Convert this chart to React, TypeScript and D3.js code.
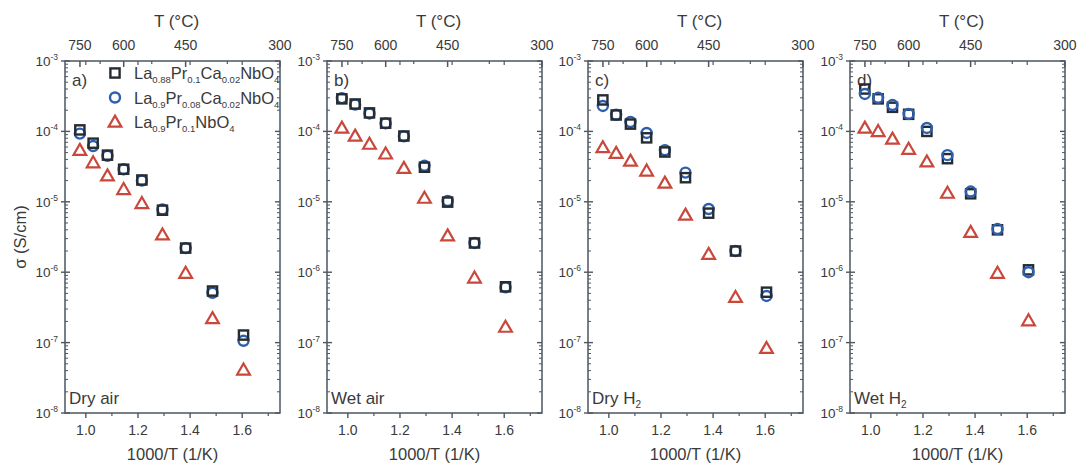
import React from 'react';
import * as d3 from 'd3';

// 1000/T (1/K) for 750..350 °C
const invT = [0.977, 1.028, 1.083, 1.145, 1.215, 1.294, 1.383, 1.486, 1.605];

// conductivity (S/cm)
const dryAirCa = [1.05e-4, 6.8e-5, 4.6e-5, 2.9e-5, 2.04e-5, 7.6e-6, 2.2e-6, 5.4e-7, 1.28e-7];
const dryAirPrCa = [9.3e-5, 6.2e-5, 4.5e-5, 2.9e-5, 2.0e-5, 7.8e-6, 2.2e-6, 5.1e-7, 1.06e-7];
const dryAirPr = [5.4e-5, 3.6e-5, 2.35e-5, 1.5e-5, 9.5e-6, 3.4e-6, 9.7e-7, 2.2e-7, 4.1e-8];

const wetAirCa = [2.9e-4, 2.45e-4, 1.83e-4, 1.31e-4, 8.6e-5, 3.1e-5, 9.9e-6, 2.6e-6, 6.2e-7];
const wetAirPrCa = [2.97e-4, 2.4e-4, 1.8e-4, 1.3e-4, 8.5e-5, 3.25e-5, 1.03e-5, 2.6e-6, 6.1e-7];
const wetAirPr = [1.12e-4, 8.6e-5, 6.6e-5, 4.8e-5, 3.0e-5, 1.13e-5, 3.3e-6, 8.3e-7, 1.66e-7];

const dryH2Ca = [2.8e-4, 1.71e-4, 1.27e-4, 8.1e-5, 5.1e-5, 2.2e-5, 6.9e-6, 2.0e-6, 5.2e-7];
const dryH2PrCa = [2.3e-4, 1.72e-4, 1.36e-4, 9.5e-5, 5.4e-5, 2.6e-5, 7.9e-6, 2.0e-6, 4.6e-7];
const dryH2Pr = [5.9e-5, 4.9e-5, 3.8e-5, 2.75e-5, 1.85e-5, 6.5e-6, 1.8e-6, 4.4e-7, 8.3e-8];

const wetH2Ca = [4.0e-4, 2.9e-4, 2.2e-4, 1.75e-4, 1.0e-4, 4.1e-5, 1.3e-5, 4.0e-6, 1.08e-6];
const wetH2PrCa = [3.4e-4, 3.0e-4, 2.37e-4, 1.77e-4, 1.12e-4, 4.6e-5, 1.4e-5, 4.1e-6, 1.0e-6];
const wetH2Pr = [1.12e-4, 1.0e-4, 7.8e-5, 5.6e-5, 3.7e-5, 1.33e-5, 3.7e-6, 9.7e-7, 2.05e-7];

const bottomTicks = [1.0, 1.2, 1.4, 1.6];
const bottomMinor = [1.1, 1.3, 1.5, 1.7];
const topTicks = [750, 600, 450, 300];
const topMinor = [675, 525, 375];
const yExponents = [-3, -4, -5, -6, -7, -8];

const panels = [
  { tag: 'a)', cond: ['Dry air', ''], sq: dryAirCa, ci: dryAirPrCa, tr: dryAirPr, circleTop: false },
  { tag: 'b)', cond: ['Wet air', ''], sq: wetAirCa, ci: wetAirPrCa, tr: wetAirPr, circleTop: false },
  { tag: 'c)', cond: ['Dry H', '2'], sq: dryH2Ca, ci: dryH2PrCa, tr: dryH2Pr, circleTop: false },
  { tag: 'd)', cond: ['Wet H', '2'], sq: wetH2Ca, ci: wetH2PrCa, tr: wetH2Pr, circleTop: true },
];

const legend = [
  { shape: 'sq', parts: [['La', '0.88'], ['Pr', '0.1'], ['Ca', '0.02'], ['NbO', '4']] },
  { shape: 'ci', parts: [['La', '0.9'], ['Pr', '0.08'], ['Ca', '0.02'], ['NbO', '4']] },
  { shape: 'tr', parts: [['La', '0.9'], ['Pr', '0.1'], ['NbO', '4']] },
];

const colors = { sq: '#262c33', ci: '#2d5fae', tr: '#c9473b' };
const axisColor = '#4e5660';
const textColor = '#3a3a3a';
const font = 'Liberation Sans, Arial, sans-serif';

const W = 1077, H = 466;
const panelW = 215, top = 61, bottom = 413;
const lefts = [65, 327, 588, 850];

const y = d3.scaleLog().domain([1e-8, 1e-3]).range([bottom, top]);

function Marker({ shape, cx, cy }: { shape: string; cx: number; cy: number }) {
  const c = colors[shape as keyof typeof colors];
  if (shape === 'sq') return <rect x={cx - 4.6} y={cy - 4.6} width={9.2} height={9.2} fill="none" stroke={c} strokeWidth={2.4} />;
  if (shape === 'ci') return <circle cx={cx} cy={cy} r={5} fill="none" stroke={c} strokeWidth={2.4} />;
  const s = d3.symbol(d3.symbolTriangle, 70)();
  return <path d={s || ''} transform={`translate(${cx},${cy + 1})`} fill="none" stroke={c} strokeWidth={2.2} strokeLinejoin="miter" />;
}

function Panel({ p, left, i }: { p: any; left: number; i: number }) {
  const x = d3.scaleLinear().domain([0.92, 1.745]).range([left, left + panelW]);
  const xT = (t: number) => x(1000 / (t + 273.15));
  const minorY: number[] = [];
  yExponents.slice(0, -1).forEach((e) => {
    for (let k = 2; k <= 9; k++) minorY.push(k * Math.pow(10, e - 1));
  });
  const order = p.circleTop ? ['sq', 'ci', 'tr'] : ['ci', 'sq', 'tr'];
  const cx = (left + left + panelW) / 2;
  return (
    <g>
      {/* frame */}
      <rect x={left} y={top} width={panelW} height={bottom - top} fill="none" stroke={axisColor} strokeWidth={1.5} />
      {/* bottom axis */}
      {bottomTicks.map((t) => (
        <g key={'b' + t}>
          <line x1={x(t)} x2={x(t)} y1={bottom} y2={bottom + 5} stroke={axisColor} strokeWidth={1.4} />
          <line x1={x(t)} x2={x(t)} y1={top} y2={top + 4} stroke={axisColor} strokeWidth={1.2} />
          <text x={x(t)} y={bottom + 22} textAnchor="middle" fontSize={14} fill={textColor}>{t.toFixed(1)}</text>
        </g>
      ))}
      {bottomMinor.map((t) => (
        <line key={'bm' + t} x1={x(t)} x2={x(t)} y1={bottom} y2={bottom + 3} stroke={axisColor} strokeWidth={1.2} />
      ))}
      <text x={cx} y={bottom + 47} textAnchor="middle" fontSize={16.5} fill={textColor}>1000/T (1/K)</text>
      {/* top axis (°C) */}
      {topTicks.map((t) => (
        <g key={'t' + t}>
          <line x1={xT(t)} x2={xT(t)} y1={top} y2={top + 6} stroke={axisColor} strokeWidth={1.5} />
          <text x={xT(t)} y={top - 11} textAnchor="middle" fontSize={14} fill={textColor}>{t}</text>
        </g>
      ))}
      {topMinor.map((t) => (
        <line key={'tm' + t} x1={xT(t)} x2={xT(t)} y1={top} y2={top + 3} stroke={axisColor} strokeWidth={1.2} />
      ))}
      <text x={cx + 4} y={top - 34} textAnchor="middle" fontSize={17} fill={textColor}>T (°C)</text>
      {/* left / right axes */}
      {yExponents.map((e) => (
        <g key={'y' + e}>
          <line x1={left - 4} x2={left + 5} y1={y(Math.pow(10, e))} y2={y(Math.pow(10, e))} stroke={axisColor} strokeWidth={1.4} />
          <line x1={left + panelW - 5} x2={left + panelW} y1={y(Math.pow(10, e))} y2={y(Math.pow(10, e))} stroke={axisColor} strokeWidth={1.4} />
          <text x={left - 7} y={y(Math.pow(10, e)) + 5} textAnchor="end" fontSize={13.5} fill={textColor}>
            10<tspan fontSize={8.5} dy={-6}>{e}</tspan>
          </text>
        </g>
      ))}
      {minorY.map((v, k) => (
        <g key={'ym' + k}>
          <line x1={left} x2={left + 3} y1={y(v)} y2={y(v)} stroke={axisColor} strokeWidth={1} />
          <line x1={left + panelW - 3} x2={left + panelW} y1={y(v)} y2={y(v)} stroke={axisColor} strokeWidth={1} />
        </g>
      ))}
      {i === 0 && (
        <text transform={`translate(${left - 39},${(top + bottom) / 2}) rotate(-90)`} textAnchor="middle" fontSize={16.5} fill={textColor}>σ (S/cm)</text>
      )}
      {/* labels */}
      <text x={left + 7} y={top + 25} fontSize={17} fill={textColor}>{p.tag}</text>
      <text x={left + 4} y={bottom - 9} fontSize={17} fill={textColor}>
        {p.cond[0]}
        {p.cond[1] && <tspan fontSize={10} dy={4}>{p.cond[1]}</tspan>}
      </text>
      {/* data */}
      {order.map((s) => (
        <g key={s}>
          {invT.map((t, k) => (
            <Marker key={k} shape={s} cx={x(t)} cy={y(p[s][k])} />
          ))}
        </g>
      ))}
      {i === 0 &&
        legend.map((l, k) => (
          <g key={'lg' + k}>
            <Marker shape={l.shape} cx={left + 50} cy={top + 12 + k * 24.5} />
            <text x={left + 69} y={top + 18 + k * 24.5} fontSize={16.5} fill={textColor}>
              {l.parts.map((pt, j) => (
                <React.Fragment key={j}>
                  <tspan dy={j === 0 ? 0 : -4}>{pt[0]}</tspan>
                  <tspan fontSize={9.5} dy={4}>{pt[1]}</tspan>
                </React.Fragment>
              ))}
            </text>
          </g>
        ))}
    </g>
  );
}

export default function App() {
  return (
    <svg width={W} height={H} fontFamily={font} style={{ position: 'absolute', left: 0, top: 0, background: '#fff' }}>
      {panels.map((p, i) => (
        <Panel key={i} p={p} left={lefts[i]} i={i} />
      ))}
    </svg>
  );
}
